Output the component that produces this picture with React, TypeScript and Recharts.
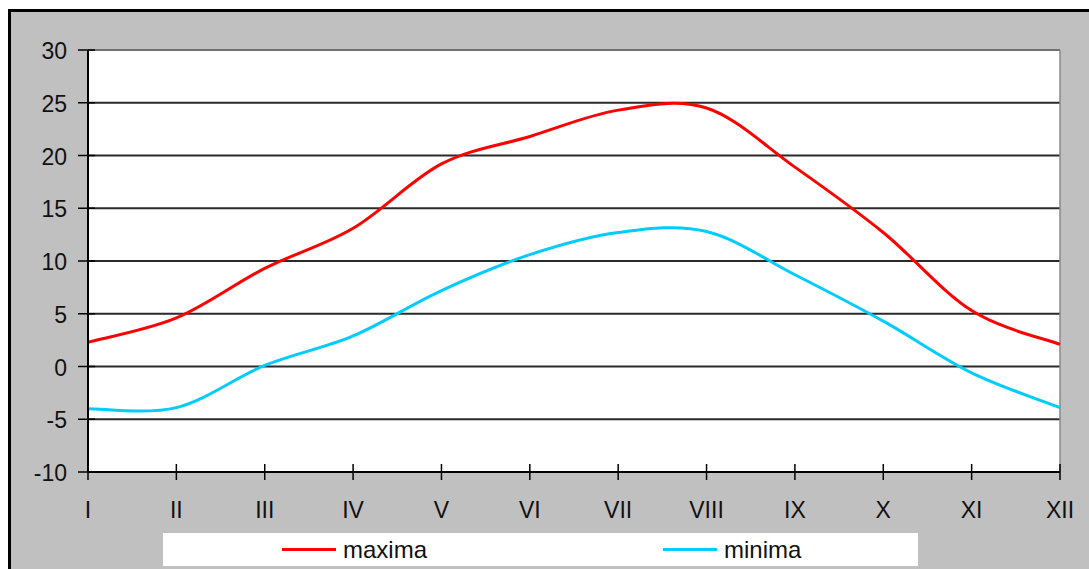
import React from 'react';
import { LineChart, Line, XAxis, YAxis, CartesianGrid, Legend, ReferenceLine } from 'recharts';

// Monthly temperature means (°C)
const months = ['I', 'II', 'III', 'IV', 'V', 'VI', 'VII', 'VIII', 'IX', 'X', 'XI', 'XII'];
const maxima = [2.3, 4.6, 9.3, 13.1, 19.2, 21.8, 24.3, 24.5, 18.9, 12.7, 5.3, 2.1];
const minima = [-4.0, -3.9, 0.1, 2.9, 7.2, 10.6, 12.7, 12.8, 8.7, 4.3, -0.6, -3.9];
const yTicks = [-10, -5, 0, 5, 10, 15, 20, 25, 30];

const data = months.map((m, i) => ({ month: m, maxima: maxima[i], minima: minima[i] }));

const FONT = '"Liberation Sans", Arial, sans-serif';

// Catmull-Rom style smoothing (same feel as spreadsheet "smoothed line")
function smoothCurve(context: any) {
  let pts: [number, number][] = [];
  return {
    areaStart() {},
    areaEnd() {},
    lineStart() {
      pts = [];
    },
    point(x: number, y: number) {
      pts.push([+x, +y]);
    },
    lineEnd() {
      if (!pts.length) return;
      context.moveTo(pts[0][0], pts[0][1]);
      for (let i = 0; i < pts.length - 1; i++) {
        const p0 = pts[Math.max(i - 1, 0)];
        const p1 = pts[i];
        const p2 = pts[i + 1];
        const p3 = pts[Math.min(i + 2, pts.length - 1)];
        context.bezierCurveTo(
          p1[0] + (p2[0] - p0[0]) / 6,
          p1[1] + (p2[1] - p0[1]) / 6,
          p2[0] - (p3[0] - p1[0]) / 6,
          p2[1] - (p3[1] - p1[1]) / 6,
          p2[0],
          p2[1]
        );
      }
    },
  };
}

const XTick = (props: any) => {
  const { x, y, payload } = props;
  return (
    <g>
      <line x1={x} x2={x} y1={y - 8} y2={y + 8} stroke="#000" strokeWidth={1.5} />
      <text x={x} y={y + 46} textAnchor="middle" fontSize={23} fontFamily={FONT} fill="#111">
        {payload.value}
      </text>
    </g>
  );
};

const YTick = (props: any) => {
  const { x, y, payload } = props;
  return (
    <g>
      <line x1={x - 10} x2={x + 7} y1={y} y2={y} stroke="#000" strokeWidth={1.5} />
      <text x={x - 21} y={y + 9} textAnchor="end" fontSize={23} fontFamily={FONT} fill="#111">
        {payload.value}
      </text>
    </g>
  );
};

const renderLegend = (props: any) => {
  const items = props.payload || [];
  const slots = [119, 500];
  return (
    <div style={{ position: 'relative', width: 755, height: 33, background: '#fff', fontFamily: FONT }}>
      {items.map((item: any, i: number) => (
        <div key={item.value} style={{ position: 'absolute', left: slots[i], top: 0, height: 33, display: 'flex', alignItems: 'center' }}>
          <span style={{ display: 'inline-block', width: 54, height: 3, background: item.color }} />
          <span style={{ marginLeft: 7, fontSize: 24, color: '#111', lineHeight: '33px' }}>{item.value}</span>
        </div>
      ))}
    </div>
  );
};

export default function App() {
  return (
    <div
      style={{
        position: 'absolute',
        left: 8,
        top: 9,
        width: 1081,
        height: 560,
        boxSizing: 'border-box',
        borderTop: '3px solid #000',
        borderLeft: '3px solid #000',
        background: '#c0c0c0',
        overflow: 'hidden',
        fontFamily: FONT,
      }}
    >
      <LineChart width={1078} height={557} data={data} margin={{ top: 38, right: 29, bottom: 47, left: 0 }}>
        <CartesianGrid vertical={false} stroke="#2a2a2a" strokeWidth={1.8} fill="#fff" />
        <ReferenceLine y={30} stroke="#8a8a8a" strokeWidth={1.5} />
        <ReferenceLine x="XII" stroke="#8a8a8a" strokeWidth={1.5} />
        <XAxis
          dataKey="month"
          height={50}
          interval={0}
          tickSize={0}
          tickMargin={0}
          tickLine={false}
          axisLine={{ stroke: '#000', strokeWidth: 2 }}
          tick={<XTick />}
        />
        <YAxis
          width={77}
          domain={[-10, 30]}
          ticks={yTicks}
          tickSize={0}
          tickMargin={0}
          tickLine={false}
          axisLine={{ stroke: '#000', strokeWidth: 2 }}
          tick={<YTick />}
        />
        <Legend
          layout="horizontal"
          verticalAlign="middle"
          align="center"
          content={renderLegend}
          wrapperStyle={{ left: 152, top: 521, width: 755, height: 33 }}
        />
        <Line
          type={smoothCurve as any}
          dataKey="maxima"
          name="maxima"
          stroke="#ff0000"
          strokeWidth={3}
          dot={false}
          isAnimationActive={false}
        />
        <Line
          type={smoothCurve as any}
          dataKey="minima"
          name="minima"
          stroke="#00ccff"
          strokeWidth={3}
          dot={false}
          isAnimationActive={false}
        />
      </LineChart>
    </div>
  );
}
